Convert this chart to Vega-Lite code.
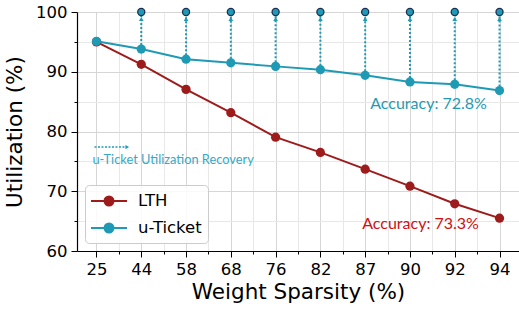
{
  "$schema": "https://vega.github.io/schema/vega-lite/v6.json",
  "width": 442,
  "height": 239,
  "autosize": {"type": "none"},
  "padding": {"left": 77, "top": 12, "right": 0, "bottom": 59},
  "background": "white",
  "config": {
    "view": {"stroke": null},
    "font": "DejaVu Sans",
    "axis": {
      "domainColor": "black",
      "domainWidth": 1.2,
      "tickColor": "black",
      "tickWidth": 1,
      "labelFont": "DejaVu Sans",
      "labelFontSize": 16.5,
      "labelColor": "black",
      "titleFont": "DejaVu Sans",
      "titleFontSize": 21.5,
      "titleFontWeight": "normal",
      "titleColor": "black",
      "gridColor": "#d6d6d6",
      "gridWidth": 1
    }
  },
  "datasets": {
    "util": [
      {"sparsity": "25", "method": "LTH", "util": 95.0},
      {"sparsity": "44", "method": "LTH", "util": 91.25},
      {"sparsity": "58", "method": "LTH", "util": 87.05},
      {"sparsity": "68", "method": "LTH", "util": 83.15},
      {"sparsity": "76", "method": "LTH", "util": 79.05},
      {"sparsity": "82", "method": "LTH", "util": 76.5},
      {"sparsity": "87", "method": "LTH", "util": 73.7},
      {"sparsity": "90", "method": "LTH", "util": 70.85},
      {"sparsity": "92", "method": "LTH", "util": 67.9},
      {"sparsity": "94", "method": "LTH", "util": 65.5},
      {"sparsity": "25", "method": "u-Ticket", "util": 95.1},
      {"sparsity": "44", "method": "u-Ticket", "util": 93.8},
      {"sparsity": "58", "method": "u-Ticket", "util": 92.1},
      {"sparsity": "68", "method": "u-Ticket", "util": 91.5},
      {"sparsity": "76", "method": "u-Ticket", "util": 90.9},
      {"sparsity": "82", "method": "u-Ticket", "util": 90.35},
      {"sparsity": "87", "method": "u-Ticket", "util": 89.4},
      {"sparsity": "90", "method": "u-Ticket", "util": 88.3},
      {"sparsity": "92", "method": "u-Ticket", "util": 87.9},
      {"sparsity": "94", "method": "u-Ticket", "util": 86.85}
    ]
  },
  "resolve": {"axis": {"x": "independent", "y": "independent"}},
  "layer": [
    {
      "data": {"name": "util"},
      "mark": {"type": "line", "strokeWidth": 2},
      "encoding": {
        "x": {
          "field": "sparsity", "type": "ordinal",
          "sort": ["25","44","58","68","76","82","87","90","92","94"],
          "scale": {"type": "point", "padding": 0.435},
          "axis": {"title": "Weight Sparsity (%)", "grid": true, "labelAngle": 0, "tickSize": 6, "labelPadding": 4, "titlePadding": 4, "zindex": 0}
        },
        "y": {
          "field": "util", "type": "quantitative",
          "scale": {"domain": [60, 100], "nice": false, "zero": false},
          "axis": {"title": "Utilization (%)", "values": [60, 70, 80, 90, 100], "grid": true, "tickSize": 6, "labelPadding": 4, "titlePadding": 9, "zindex": 0}
        },
        "color": {
          "field": "method", "type": "nominal",
          "scale": {"domain": ["LTH", "u-Ticket"], "range": ["#9e1b1b", "#1f9ab5"]},
          "legend": {
            "title": null,
            "orient": "bottom-left",
            "offset": 8,
            "padding": 6,
            "strokeColor": "#cccccc",
            "fillColor": "rgba(255,255,255,0.85)",
            "cornerRadius": 4,
            "labelFont": "DejaVu Sans",
            "labelFontSize": 16.5,
            "labelColor": "black",
            "symbolType": "M -2 0 L 2 0 M 0.5 0 A 0.5 0.5 0 1 1 -0.5 0 A 0.5 0.5 0 1 1 0.5 0 Z",
            "symbolSize": 324,
            "symbolStrokeWidth": 2,
            "symbolOffset": 8,
            "labelOffset": 19,
            "rowPadding": 8,
            "encode": {
              "symbols": {"update": {"fill": {"scale": "color", "field": "value"}, "stroke": {"scale": "color", "field": "value"}, "opacity": {"value": 1}}}
            }
          }
        }
      }
    },
    {
      "data": {"name": "util"},
      "mark": {"type": "point", "filled": true, "size": 85, "opacity": 1},
      "encoding": {
        "x": {"field": "sparsity", "type": "ordinal", "sort": ["25","44","58","68","76","82","87","90","92","94"],
          "axis": {"title": null, "orient": "bottom", "labels": false, "domain": false, "grid": true, "gridColor": "#e8e8e8", "tickSize": 3, "tickOffset": 22.39, "zindex": 0}},
        "y": {"field": "util", "type": "quantitative",
          "axis": {"title": null, "orient": "left", "labels": false, "domain": false, "values": [65, 75, 85, 95], "grid": true, "gridColor": "#e8e8e8", "tickSize": 3, "zindex": 0}},
        "color": {"field": "method", "type": "nominal", "legend": null}
      }
    },
    {
      "data": {"name": "util"},
      "transform": [{"filter": "datum.method === 'u-Ticket' && datum.sparsity !== '25'"}],
      "mark": {"type": "rule", "color": "#1f9ab5", "strokeWidth": 2, "strokeDash": [2, 2]},
      "encoding": {
        "x": {"field": "sparsity", "type": "ordinal", "sort": ["25","44","58","68","76","82","87","90","92","94"], "axis": null},
        "y": {"field": "util", "type": "quantitative", "axis": null},
        "y2": {"datum": 100}
      }
    },
    {
      "data": {"name": "util"},
      "transform": [{"filter": "datum.method === 'u-Ticket' && datum.sparsity !== '25'"}],
      "mark": {"type": "point", "shape": "triangle-up", "filled": true, "color": "#1f9ab5", "size": 22, "opacity": 1, "yOffset": 7},
      "encoding": {
        "x": {"field": "sparsity", "type": "ordinal", "sort": ["25","44","58","68","76","82","87","90","92","94"], "axis": null},
        "y": {"datum": 100, "axis": null}
      }
    },
    {
      "data": {"name": "util"},
      "transform": [{"filter": "datum.method === 'u-Ticket' && datum.sparsity !== '25'"}],
      "mark": {"type": "point", "shape": "circle", "filled": true, "fill": "#1f9ab5", "stroke": "#1b2f55", "strokeWidth": 1.3, "size": 50, "opacity": 1},
      "encoding": {
        "x": {"field": "sparsity", "type": "ordinal", "sort": ["25","44","58","68","76","82","87","90","92","94"], "axis": null},
        "y": {"datum": 100, "axis": null}
      }
    },
    {
      "data": {"values": [{}]},
      "mark": {"type": "rule", "color": "#1f9ab5", "strokeWidth": 1.6, "strokeDash": [2, 1.5], "xOffset": -2, "x2Offset": -16},
      "encoding": {
        "x": {"datum": "25", "axis": null},
        "x2": {"datum": "44"},
        "y": {"datum": 77.4, "axis": null}
      }
    },
    {
      "data": {"values": [{}]},
      "mark": {"type": "point", "shape": "triangle-right", "filled": true, "color": "#1f9ab5", "size": 18, "opacity": 1, "xOffset": -14},
      "encoding": {
        "x": {"datum": "44", "axis": null},
        "y": {"datum": 77.4, "axis": null}
      }
    },
    {
      "data": {"values": [{}]},
      "mark": {"type": "text", "text": "u-Ticket Utilization Recovery", "font": "Lato", "fontSize": 12.8, "color": "#3aa8c4", "align": "left", "baseline": "middle", "dx": -4},
      "encoding": {
        "x": {"datum": "25", "axis": null},
        "y": {"datum": 75.2, "axis": null}
      }
    },
    {
      "data": {"values": [{}]},
      "mark": {"type": "text", "text": "Accuracy: 72.8%", "font": "Lato", "fontSize": 16, "color": "#1f9ab5", "align": "left", "baseline": "middle", "dx": 5},
      "encoding": {
        "x": {"datum": "87", "axis": null},
        "y": {"datum": 84.6, "axis": null}
      }
    },
    {
      "data": {"values": [{}]},
      "mark": {"type": "text", "text": "Accuracy: 73.3%", "font": "Lato", "fontSize": 16, "color": "#cc1111", "align": "left", "baseline": "middle", "dx": -3},
      "encoding": {
        "x": {"datum": "87", "axis": null},
        "y": {"datum": 64.6, "axis": null}
      }
    }
  ]
}
